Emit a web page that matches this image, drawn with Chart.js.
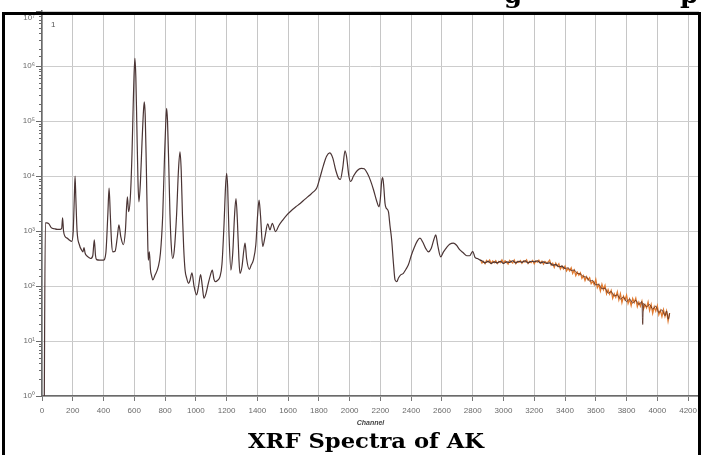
<!DOCTYPE html>
<html><head><meta charset="utf-8">
<script src="https://cdn.jsdelivr.net/npm/chart.js@4.4.1/dist/chart.umd.min.js"></script>
<style>html,body{margin:0;padding:0;background:#fff}canvas{display:block}</style>
</head><body>
<canvas id="c" width="702" height="455"></canvas>
<script>
// ---- data ----
const channels = [14,22,30,45,60,80,100,120,128,134,140,150,165,180,193,203,210,215,220,228,243,258,266,273,280,290,305,315,330,340,348,355,375,399,415,428,436,444,452,460,475,490,500,512,529,542,555,563,575,585,593,598,604,610,616,624,630,640,650,660,665,671,678,686,691,698,705,713,720,735,756,770,785,797,805,810,816,824,832,840,849,860,875,887,897,905,913,921,930,940,953,962,975,988,1005,1018,1031,1042,1053,1065,1081,1095,1107,1118,1129,1140,1157,1170,1183,1193,1200,1207,1215,1228,1240,1252,1261,1270,1280,1287,1300,1312,1320,1330,1348,1360,1374,1390,1402,1411,1420,1435,1450,1467,1482,1497,1518,1540,1565,1591,1620,1650,1678,1710,1740,1764,1786,1808,1830,1850,1870,1890,1910,1930,1940,1955,1970,1980,1995,2007,2025,2050,2075,2095,2115,2135,2155,2175,2191,2200,2208,2215,2222,2230,2237,2252,2262,2273,2285,2295,2306,2318,2330,2349,2365,2381,2400,2420,2440,2457,2475,2495,2512,2530,2548,2560,2572,2592,2610,2630,2650,2674,2695,2715,2740,2761,2780,2800,2815,2830,2848,2860,2880,2900,2920,2940,2960,2980,3000,3020,3040,3060,3080,3100,3120,3140,3160,3180,3200,3220,3240,3260,3280,3300,3320,3340,3360,3380,3400,3420,3440,3460,3480,3500,3520,3540,3560,3580,3600,3620,3640,3660,3680,3700,3720,3740,3760,3780,3800,3820,3840,3860,3880,3900,3905,3910,3930,3950,3970,3990,4010,4030,4050,4060,4072,4080];
const counts = [0.3,1410,1410,1350,1150,1100,1070,1070,1120,1740,1000,794,741,676,646,1000,3980,10000,3980,1000,562,447,417,501,398,355,331,316,355,692,355,302,295,295,398,2000,6030,2000,631,417,427,794,1290,794,562,1000,4170,2240,4470,25100,200000,631000,1380000,631000,100000,7940,3390,7940,39800,158000,224000,126000,15800,1000,295,417,200,151,129,158,224,398,2000,25100,100000,170000,100000,15800,2000,562,316,447,2000,12600,27500,12600,2000,501,195,141,112,126,174,100,69,100,162,100,60,71,112,158,195,132,120,126,148,251,1260,6310,11200,6310,1000,195,398,2000,3890,1580,316,170,224,447,603,316,200,240,295,562,2000,3630,2000,525,794,1350,1050,1380,977,1260,1580,1950,2340,2750,3160,3800,4470,5130,6030,9550,15800,22900,26300,21400,12600,8910,8710,14100,28800,22400,10000,7940,10000,12600,13800,13500,11200,8320,5620,3550,2750,3980,7940,9330,6310,3160,2630,2240,1260,692,251,129,120,141,158,170,200,240,355,501,661,741,631,479,417,479,708,851,562,339,417,501,575,603,550,457,398,355,355,427,331,316,295,288,263,282,257,275,263,282,257,275,269,288,263,282,269,288,263,282,275,288,263,275,257,263,240,245,224,229,209,214,191,195,170,166,148,145,123,126,105,107,89,91,74,79,66,69,58,63,52,58,49,55,46,52,20,48,42,46,38,43,33,37,29,35,25,32];
const tailChannels = [2850,2860,2870,2880,2890,2900,2910,2920,2930,2940,2950,2960,2970,2980,2990,3000,3010,3020,3030,3040,3050,3060,3070,3080,3090,3100,3110,3120,3130,3140,3150,3160,3170,3180,3190,3200,3210,3220,3230,3240,3250,3260,3270,3280,3290,3300,3310,3320,3330,3340,3350,3360,3370,3380,3390,3400,3410,3420,3430,3440,3450,3460,3470,3480,3490,3500,3510,3520,3530,3540,3550,3560,3570,3580,3590,3600,3610,3620,3630,3640,3650,3660,3670,3680,3690,3700,3710,3720,3730,3740,3750,3760,3770,3780,3790,3800,3810,3820,3830,3840,3850,3860,3870,3880,3890,3900,3910,3920,3930,3940,3950,3960,3970,3980,3990,4000,4010,4020,4030,4040,4050,4060,4070,4080];
const tailCounts = [299,262,282,254,292,271,296,258,284,265,289,256,280,267,299,260,287,270,251,293,276,262,297,255,281,268,290,259,285,273,300,257,279,266,291,253,286,271,295,261,283,250,278,264,272,295,240,260,219,260,229,254,204,229,204,229,188,209,188,214,170,195,155,178,157,174,138,155,126,148,129,141,110,122,105,132,93,106,81,107,86,102,72,86,71,83,60,72,62,78,56,72,50,65,56,68,48,58,44,59,50,60,42,51,43,53,38,46,40,51,36,46,32,42,35,44,30,36,28,37,28,35,23,32];
const xTickValues = [0,200,400,600,800,1000,1200,1400,1600,1800,2000,2200,2400,2600,2800,3000,3200,3400,3600,3800,4000,4200];
const yDecades = [1,10,100,1000,10000,100000,1000000,10000000];
const yTickLabels = ['10\u2070','10\u00b9','10\u00b2','10\u00b3','10\u2074','10\u2075','10\u2076','10\u2077'];
const xAxisTitle = 'Channel';
const chartTitle = 'XRF Spectra of AK';
const cornerMark = '1';
const topCutLetters = [{t: 'g', x: 513}, {t: 'p', x: 689}];

// ---- chart ----
const decadeIndex = v => yDecades.findIndex(d => Math.abs(d - v) < d * 1e-9);
const isDecade = v => decadeIndex(v) >= 0;
const topDecade = yDecades[yDecades.length - 1];

const framePlugin = {
  id: 'frame',
  afterDraw(chart) {
    const ctx = chart.ctx;
    const ys = chart.scales.y;
    ctx.save();
    // y tick marks (major / minor)
    ctx.strokeStyle = '#6a6a6a';
    ctx.lineWidth = 1;
    ys.ticks.forEach(t => {
      const py = Math.round(ys.getPixelForValue(t.value)) + 0.5;
      const len = isDecade(t.value) ? 6 : 3;
      ctx.beginPath();
      ctx.moveTo(ys.right - len, py);
      ctx.lineTo(ys.right, py);
      ctx.stroke();
    });
    // top decade label, pushed inside the cropped frame
    ctx.fillStyle = '#6a6a6a';
    ctx.font = '8px "Liberation Sans"';
    ctx.textAlign = 'right';
    ctx.textBaseline = 'middle';
    ctx.fillText(yTickLabels[yTickLabels.length - 1], ys.right - 7, 18);
    // corner mark
    ctx.fillStyle = '#555';
    ctx.textAlign = 'left';
    ctx.fillText(cornerMark, chart.chartArea.left + 9, 25);
    // caption, stretched to the reference width
    ctx.fillStyle = '#000';
    ctx.font = 'bold 21px "DejaVu Serif"';
    ctx.textAlign = 'center';
    ctx.textBaseline = 'alphabetic';
    const w = ctx.measureText(chartTitle).width;
    ctx.save();
    ctx.translate(366, 448);
    ctx.scale(236 / w, 1);
    ctx.fillText(chartTitle, 0, 0);
    ctx.restore();
    // letters of the text above, cut by the page crop
    ctx.save();
    ctx.beginPath();
    ctx.rect(0, 0, 702, 12);
    ctx.clip();
    ctx.font = 'bold 26px "DejaVu Serif"';
    ctx.textAlign = 'center';
    topCutLetters.forEach(l => ctx.fillText(l.t, l.x, 3));
    ctx.restore();
    // outer border
    ctx.strokeStyle = '#000';
    ctx.lineWidth = 3;
    ctx.beginPath();
    ctx.moveTo(3.5, 460);
    ctx.lineTo(3.5, 13.5);
    ctx.lineTo(699.5, 13.5);
    ctx.lineTo(699.5, 460);
    ctx.stroke();
    ctx.restore();
  }
};

new Chart(document.getElementById('c'), {
  type: 'line',
  data: {
    datasets: [
      {
        data: tailChannels.map((x, i) => ({x, y: tailCounts[i]})),
        borderColor: '#e07a30',
        borderWidth: 1.3,
        pointRadius: 0,
        tension: 0,
        order: 2
      },
      {
        data: channels.map((x, i) => ({x, y: counts[i]})),
        borderColor: '#4a3434',
        borderWidth: 1.2,
        pointRadius: 0,
        cubicInterpolationMode: 'monotone',
        segment: {
          borderColor: c => c.p0.parsed.x >= 3400 ? 'rgba(80,40,30,0.8)' : undefined,
          borderWidth: c => c.p0.parsed.x >= 3400 ? 1 : undefined
        },
        order: 1
      }
    ]
  },
  options: {
    responsive: false,
    animation: false,
    events: [],
    layout: { padding: { left: 0, top: 11, right: 3, bottom: 25 } },
    plugins: { legend: { display: false }, tooltip: { enabled: false }, title: { display: false } },
    scales: {
      x: {
        type: 'linear',
        min: 0,
        max: 4271,
        afterBuildTicks: s => { s.ticks = xTickValues.map(v => ({ value: v })); },
        afterFit: s => { s.height = 34; s.paddingLeft = 0; s.paddingRight = 0; },
        grid: { color: '#c6c6c6', lineWidth: 1, drawTicks: true, tickLength: 5, tickColor: '#777' },
        border: { color: '#6a6a6a', width: 1.5 },
        ticks: { autoSkip: false, maxRotation: 0, padding: 5, color: '#6a6a6a', font: { family: 'Liberation Sans', size: 8 }, callback: v => String(v) },
        title: { display: true, text: xAxisTitle, color: '#444', padding: { top: 0, bottom: 3 }, font: { family: 'Liberation Sans', size: 7, style: 'italic', weight: 'bold' } }
      },
      y: {
        type: 'logarithmic',
        min: 1,
        max: topDecade,
        afterFit: s => { s.width = 42; s.paddingTop = 0; s.paddingBottom = 0; },
        grid: {
          color: c => (c.tick && isDecade(c.tick.value)) ? '#cdcdcd' : 'rgba(0,0,0,0)',
          lineWidth: 1,
          drawTicks: true,
          tickLength: 6,
          tickColor: 'rgba(0,0,0,0)'
        },
        border: { color: '#6a6a6a', width: 1.5 },
        ticks: {
          autoSkip: false,
          padding: 1,
          color: '#6a6a6a',
          font: { family: 'Liberation Sans', size: 8 },
          callback: v => { const i = decadeIndex(v); return (i >= 0 && v !== topDecade) ? yTickLabels[i] : ''; }
        }
      }
    }
  },
  plugins: [framePlugin]
});
</script>
</body></html>
